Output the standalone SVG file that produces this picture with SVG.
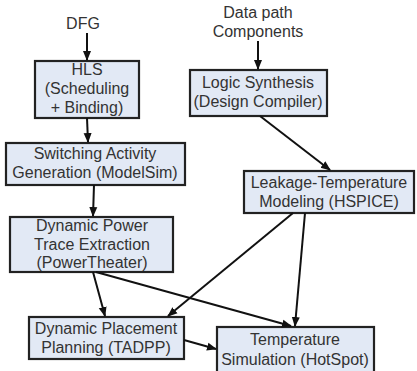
<svg xmlns="http://www.w3.org/2000/svg" width="417" height="371" viewBox="0 0 417 371">
<defs>
<marker id="ah" markerWidth="10" markerHeight="10" refX="9" refY="5" orient="auto" markerUnits="userSpaceOnUse">
<path d="M0,1 L10,5 L0,9 Z" fill="#111"/>
</marker>
<style>
.box{fill:#e2e9f5;stroke:#222;stroke-width:2.2}
.t{font-family:"Liberation Sans",Arial,sans-serif;font-size:16px;fill:#333;text-anchor:middle}
.c{stroke:#111;stroke-width:2;fill:none;marker-end:url(#ah)}
</style>
</defs>
<rect width="417" height="371" fill="#fff"/>
<g id="in-dfg"><text class="t" x="83" y="29">DFG</text></g>
<g id="in-dp"><text class="t" x="258" y="18">Data path</text><text class="t" x="258" y="37">Components</text></g>
<g id="hls"><rect class="box" x="35" y="61" width="104" height="57"/>
<text class="t" x="87" y="75">HLS</text><text class="t" x="87" y="94">(Scheduling</text><text class="t" x="87" y="113">+ Binding)</text></g>
<g id="logic"><rect class="box" x="190" y="70" width="137" height="46"/>
<text class="t" x="258" y="88">Logic Synthesis</text><text class="t" x="258" y="107">(Design Compiler)</text></g>
<g id="switch"><rect class="box" x="6" y="143" width="179" height="42"/>
<text class="t" x="95" y="159">Switching Activity</text><text class="t" x="95" y="178">Generation (ModelSim)</text></g>
<g id="leak"><rect class="box" x="244" y="171" width="170" height="42"/>
<text class="t" x="329" y="188">Leakage-Temperature</text><text class="t" x="329" y="207">Modeling (HSPICE)</text></g>
<g id="dynpow"><rect class="box" x="10" y="217" width="163" height="55"/>
<text class="t" x="92" y="231">Dynamic Power</text><text class="t" x="92" y="250">Trace Extraction</text><text class="t" x="92" y="268">(PowerTheater)</text></g>
<g id="place"><rect class="box" x="29" y="317" width="155" height="42"/>
<text class="t" x="106" y="334">Dynamic Placement</text><text class="t" x="106" y="353">Planning (TADPP)</text></g>
<g id="temp"><rect class="box" x="217" y="327" width="157" height="47"/>
<text class="t" x="295" y="345">Temperature</text><text class="t" x="295" y="365">Simulation (HotSpot)</text></g>
<g id="connectors">
<line class="c" x1="87" y1="33" x2="87" y2="60"/>
<line class="c" x1="258" y1="41" x2="258" y2="69"/>
<line class="c" x1="87" y1="118" x2="88" y2="142"/>
<line class="c" x1="94" y1="185" x2="93" y2="216"/>
<line class="c" x1="260" y1="116" x2="330" y2="170"/>
<line class="c" x1="93" y1="272" x2="105" y2="316"/>
<line class="c" x1="96" y1="272" x2="291" y2="326"/>
<line class="c" x1="293" y1="213" x2="168" y2="316"/>
<line class="c" x1="305" y1="213" x2="295" y2="326"/>
<line class="c" x1="184" y1="340" x2="216" y2="349"/>
</g>
</svg>
